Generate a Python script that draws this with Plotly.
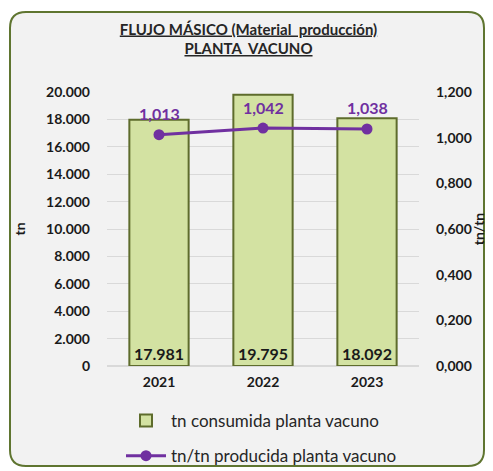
import plotly.graph_objects as go

years = ["2021", "2022", "2023"]
tn_consumida = [17981, 19795, 18092]
tn_por_tn = [1.013, 1.042, 1.038]

FONT = "Lato"
OFF = 8  # page body margin
W, H = 479, 471 - OFF
L, T = 99, 84
pw, ph = 312, 274
R = W - L - pw
B = H - T - ph

def px(x):
    return (x - OFF - L) / pw

def py(y):
    return (H - B - (y - OFF)) / ph

fig = go.Figure()
fig.add_trace(go.Bar(
    x=years, y=tn_consumida, name="tn consumida planta vacuno",
    marker=dict(color="#d3e2a2", line=dict(color="#5e6c2c", width=2)),
    width=0.57,
    text=tn_consumida, texttemplate="%{y:,d}", textposition="inside",
    insidetextanchor="start", constraintext="none",
    textfont=dict(family=FONT, size=16, color="#1a1a1a", weight="bold"),
    legendgroup="a",
))
fig.add_trace(go.Scatter(
    x=years, y=tn_por_tn, name="tn/tn producida planta vacuno", yaxis="y2",
    mode="lines+markers",
    line=dict(color="#7030a0", width=3), marker=dict(size=11, color="#7030a0"),
    legendgroup="b",
))

annotations = [
    dict(x=i, y=v, xref="x", yref="y2", text=f"{v:.3f}".replace(".", ","),
         showarrow=False, yshift=21,
         font=dict(family=FONT, size=16, color="#7030a0", weight="bold"))
    for i, v in enumerate(tn_por_tn)
]

# rounded border
x0, x1 = px(10), px(484)
y0, y1 = py(466), py(12)
rx, ry = 16 / pw, 16 / ph
path = (f"M {x0+rx},{y1} L {x1-rx},{y1} Q {x1},{y1} {x1},{y1-ry} "
        f"L {x1},{y0+ry} Q {x1},{y0} {x1-rx},{y0} L {x0+rx},{y0} "
        f"Q {x0},{y0} {x0},{y0+ry} L {x0},{y1-ry} Q {x0},{y1} {x0+rx},{y1} Z")

fig.update_layout(
    width=W, height=H, margin=dict(l=L, r=R, t=T, b=B, autoexpand=False),
    paper_bgcolor="white", plot_bgcolor="rgba(0,0,0,0)",
    separators=",.",
    font=dict(family=FONT, size=13, color="#1a1a1a"),
    annotations=annotations,
    shapes=[dict(type="path", path=path, xref="paper", yref="paper",
                 fillcolor="#f2f2f2", line=dict(color="#5f7530", width=2), layer="below")],
    title=dict(
        text="<span style='text-decoration:underline'>FLUJO MÁSICO (Material  producción)</span><br>"
             "<span style='text-decoration:underline'>PLANTA  VACUNO</span>",
        x=(248.5 - OFF) / W, xanchor="center", y=1 - (34.5 - OFF) / H, yanchor="middle",
        font=dict(family=FONT, size=15, color="#262626", weight="bold")),
    xaxis=dict(type="category", range=[-0.5, 2.5], showgrid=False, showline=False,
               ticks="", ticklabelstandoff=6,
               tickfont=dict(family=FONT, size=14, weight="bold", color="#1a1a1a")),
    yaxis=dict(range=[0, 20000], dtick=2000, tickformat=",d", showgrid=True,
               gridcolor="#d9d9d9", gridwidth=1, zeroline=True, zerolinecolor="#d9d9d9",
               ticks="", ticklabelstandoff=16,
               tickfont=dict(family=FONT, size=14, weight="bold", color="#1a1a1a"),
               title=dict(text="tn", standoff=17, font=dict(family=FONT, size=14, weight="bold"))),
    yaxis2=dict(range=[0, 1.2], dtick=0.2, tickformat=".3f", overlaying="y", side="right",
                showgrid=False, zeroline=False, ticks="", ticklabelstandoff=16,
                tickfont=dict(family=FONT, size=14, weight="bold", color="#1a1a1a"),
                title=dict(text="tn/tn", standoff=2, font=dict(family=FONT, size=14, weight="bold"))),
    legend=dict(x=px(121), y=py(403), xanchor="left", yanchor="top",
                bgcolor="rgba(0,0,0,0)", tracegroupgap=10, itemwidth=40,
                font=dict(family=FONT, size=17, color="#262626")),
    showlegend=True, bargap=0.43,
)
fig.write_html("out.html")
